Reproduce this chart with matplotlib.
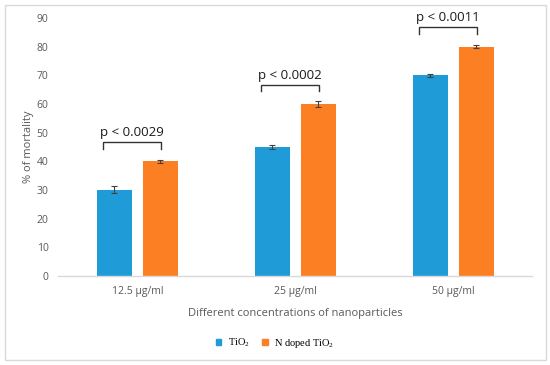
import matplotlib
matplotlib.use("Agg")
import matplotlib.pyplot as plt
from matplotlib.patches import Rectangle, Patch
import numpy as np

categories = ["12.5 μg/ml", "25 μg/ml", "50 μg/ml"]
tio2 = [30, 45, 70]
tio2_err = [1.2, 0.6, 0.5]
ndoped = [40, 60, 80]
ndoped_err = [0.6, 1.0, 0.6]
pvalues = ["p < 0.0029", "p < 0.0002", "p < 0.0011"]
yticks = [0, 10, 20, 30, 40, 50, 60, 70, 80, 90]

blue = "#1f9bd7"
orange = "#fd7f23"
gray = "#595959"
fam = ["Open Sans", "DejaVu Sans"]

plt.rcParams["mathtext.fontset"] = "custom"
plt.rcParams["mathtext.rm"] = "Liberation Serif"
plt.rcParams["mathtext.it"] = "Liberation Serif:italic"

fig = plt.figure(figsize=(5.5, 3.65), dpi=100)
ax = fig.add_axes([0.106, 0.244, 0.862, 0.707])

x = np.arange(len(categories))
w = 0.22
off = 0.145
ax.bar(x - off, tio2, w, color=blue, yerr=tio2_err,
       error_kw=dict(ecolor="#404040", elinewidth=0.8, capsize=2, capthick=0.8))
ax.bar(x + off, ndoped, w, color=orange, yerr=ndoped_err,
       error_kw=dict(ecolor="#404040", elinewidth=0.8, capsize=2, capthick=0.8))

for i in range(len(categories)):
    top = ndoped[i] + 6.7
    x0 = x[i] - 0.217
    x1 = x[i] + 0.152
    ax.plot([x0, x0, x1, x1], [top - 2.3, top, top, top - 2.3],
            color="#333333", lw=1.0, solid_joinstyle="miter")
    ax.text((x0 + x1) / 2, top + 1.0, pvalues[i], ha="center", va="bottom",
            fontsize=9.5, color="#1a1a1a", family=fam)

ax.set_xlim(-0.5, 2.5)
ax.set_ylim(0, 90)
ax.set_yticks(yticks)
ax.set_xticks(x)
ax.set_xticklabels(categories)
ax.tick_params(axis="x", length=0, labelsize=7.5, labelcolor=gray, pad=7)
ax.tick_params(axis="y", length=0, labelsize=7.5, labelcolor=gray, pad=7)
for lab in ax.get_xticklabels() + ax.get_yticklabels():
    lab.set_family(fam)
for s in ["top", "right", "left"]:
    ax.spines[s].set_visible(False)
ax.spines["bottom"].set_color("#d9d9d9")
ax.spines["bottom"].set_linewidth(1.0)

ax.set_ylabel("% of mortality", fontsize=8, color=gray, family=fam, labelpad=2)
ax.set_xlabel("Different concentrations of nanoparticles", fontsize=8,
              color=gray, family=fam, labelpad=8)

fig.legend(handles=[Patch(color=blue), Patch(color=orange)],
           labels=["TiO$_\\mathregular{2}$", "N doped TiO$_\\mathregular{2}$"],
           loc="center", bbox_to_anchor=(0.5, 0.06), ncol=2, frameon=False,
           handlelength=0.55, handleheight=0.55, handletextpad=0.6,
           columnspacing=1.2, prop=dict(family="Liberation Serif", size=7.5))

fig.add_artist(Rectangle((4.5 / 550, 1 - 359.5 / 365), 541 / 550, 354.5 / 365,
                         transform=fig.transFigure, fill=False,
                         edgecolor="#d9d9d9", lw=1.0))

fig.savefig("out.png", dpi=100)
